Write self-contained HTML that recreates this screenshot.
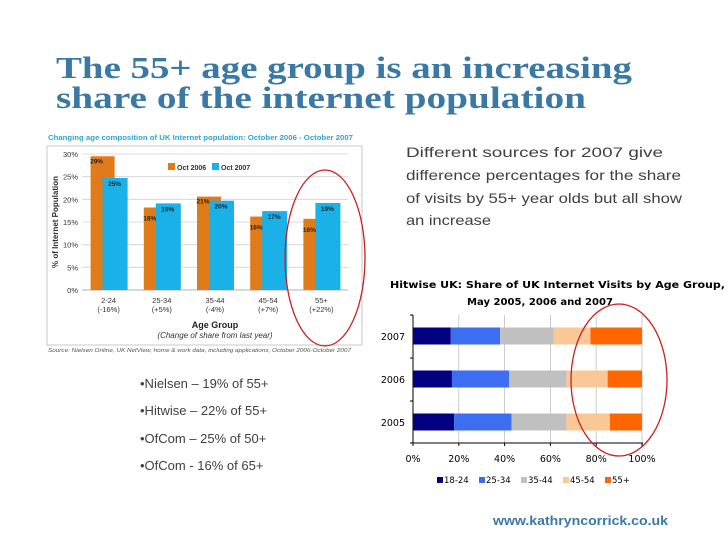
<!DOCTYPE html>
<html><head><meta charset="utf-8"><style>
body{margin:0;background:#fff;}
svg{display:block;font-family:"Liberation Sans",sans-serif;}
</style></head><body>
<svg id="s" width="728" height="546" viewBox="0 0 728 546">
<g fill="#3a78a6" font-family="Liberation Serif,serif" font-weight="bold" font-size="31">
<text x="56" y="78" textLength="576" lengthAdjust="spacingAndGlyphs">The 55+ age group is an increasing</text>
<text x="56" y="108" textLength="530" lengthAdjust="spacingAndGlyphs">share of the internet population</text>
</g>
<g fill="#404040" font-size="13.8">
<text x="406" y="157" textLength="257" lengthAdjust="spacingAndGlyphs">Different sources for 2007 give</text>
<text x="406" y="180" textLength="275" lengthAdjust="spacingAndGlyphs">difference percentages for the share</text>
<text x="406" y="203" textLength="276" lengthAdjust="spacingAndGlyphs">of visits by 55+ year olds but all show</text>
<text x="406" y="225" textLength="85" lengthAdjust="spacingAndGlyphs">an increase</text>
</g>
<g fill="#404040" font-size="13">
<text x="140" y="388">•Nielsen – 19% of 55+</text>
<text x="140" y="415">•Hitwise – 22% of 55+</text>
<text x="140" y="443">•OfCom – 25% of 50+</text>
<text x="140" y="470">•OfCom - 16% of 65+</text>
</g>
<text x="493" y="525" fill="#3a78a6" font-weight="bold" font-size="13" textLength="175" lengthAdjust="spacingAndGlyphs">www.kathryncorrick.co.uk</text>

<g id="nielsen">
<rect x="47" y="146" width="315" height="199" fill="#fff" stroke="#c8c8c8"/>
<text x="48" y="140" fill="#2aa6d6" font-size="7.6" font-weight="bold" textLength="305" lengthAdjust="spacingAndGlyphs">Changing age composition of UK Internet population: October 2006 - October 2007</text>
<text x="48" y="352" fill="#555" font-size="5.6" font-style="italic" textLength="303" lengthAdjust="spacingAndGlyphs">Source: Nielsen Online, UK NetView, home &amp; work data, including applications, October 2006-October 2007</text>
<text transform="translate(58,222) rotate(-90)" text-anchor="middle" font-size="8" font-weight="bold" fill="#333">% of Internet Population</text>
<text x="215" y="328" text-anchor="middle" font-size="9" font-weight="bold" fill="#222">Age Group</text>
<text x="215" y="338" text-anchor="middle" font-size="8" font-style="italic" fill="#333">(Change of share from last year)</text>
<rect x="168" y="163" width="7" height="7" fill="#e07b1a"/><text x="177" y="170" font-size="7" font-weight="bold" fill="#333">Oct 2006</text>
<rect x="212" y="163" width="7" height="7" fill="#1ab0e8"/><text x="221" y="170" font-size="7" font-weight="bold" fill="#333">Oct 2007</text>
</g>

<g id="hitwise">
<text x="390" y="288" font-family="DejaVu Sans,sans-serif" font-size="10" font-weight="bold" fill="#000" textLength="335" lengthAdjust="spacingAndGlyphs">Hitwise UK: Share of UK Internet Visits by Age Group,</text>
<text x="467" y="305" font-family="DejaVu Sans,sans-serif" font-size="10" font-weight="bold" fill="#000" textLength="146" lengthAdjust="spacingAndGlyphs">May 2005, 2006 and 2007</text>
</g>
<g fill="none" stroke="#cc1f1f" stroke-width="1.3">
<ellipse cx="325" cy="258" rx="40" ry="88"/>
<ellipse cx="619" cy="380" rx="48" ry="76"/>
</g>
</svg>
<script>
// Nielsen data
const nCats=["2-24","25-34","35-44","45-54","55+"];
const nChanges=["(-16%)","(+5%)","(-4%)","(+7%)","(+22%)"];
const n2006=[29.5,18.2,20.6,16.2,15.7];
const n2007=[24.7,19.1,19.7,17.4,19.2];
const n2006Labels=["29%","18%","21%","16%","16%"];
const n2007Labels=["25%","19%","20%","17%","19%"];
const nTicks=[0,5,10,15,20,25,30];
// Hitwise data
const hYears=["2007","2006","2005"];
const hSeries=["18-24","25-34","35-44","45-54","55+"];
const h1824=[16.5,17,18];
const h2534=[21.5,25,25];
const h3544=[23.5,25,24];
const h4554=[16,18,19];
const h55=[22.5,15,14];
const hTicks=[0,20,40,60,80,100];

const NS="http://www.w3.org/2000/svg";
function el(p,t,a){const e=document.createElementNS(NS,t);for(const k in a)e.setAttribute(k,a[k]);p.appendChild(e);return e;}
const ng=document.getElementById('nielsen');
const ny=v=>290-v*(136/30);
const px0=82,px1=348,gw=(px1-px0)/nCats.length;
nTicks.forEach(t=>{
 const l=el(ng,'line',{x1:px0,x2:px1,y1:ny(t),y2:ny(t),stroke:t==0?'#999':'#d0d0d0','stroke-width':0.8});
 
 
 const tx=el(ng,'text',{x:78,y:ny(t)+3,'text-anchor':'end','font-size':7.5,fill:'#333'});tx.textContent=t+'%';
 
 
});
nCats.forEach((c,i)=>{
 const gx=px0+gw*i+gw/2;
 const o=el(ng,'rect',{x:gx-18,y:ny(n2006[i]),width:24,height:ny(0)-ny(n2006[i]),fill:'#e07b1a'});
 
 
 const b=el(ng,'rect',{x:gx-6,y:ny(n2007[i]),width:25,height:ny(0)-ny(n2007[i]),fill:'#1ab0e8'});
 
 
 const t1=el(ng,'text',{x:gx-12,y:ny(n2006[i])+ (n2006[i]>n2007[i]?7:13),'text-anchor':'middle','font-size':6.5,'font-weight':'bold',fill:'#222'});t1.textContent=n2006Labels[i];
 
 
 const t2=el(ng,'text',{x:gx+6,y:ny(n2007[i])+8,'text-anchor':'middle','font-size':6.5,'font-weight':'bold',fill:'#222'});t2.textContent=n2007Labels[i];
 
 
 const a=el(ng,'text',{x:gx,y:303,'text-anchor':'middle','font-size':7.5,fill:'#333'});a.textContent=c;
 
 
 const d=el(ng,'text',{x:gx,y:312,'text-anchor':'middle','font-size':7.5,fill:'#333'});d.textContent=nChanges[i];
 
 
});
const hg=document.getElementById('hitwise');
const hx=v=>413+v*2.29;
const hyC=[336,379,422];
const hColors=['#000080','#3d6ef2','#c0c0c0','#fac796','#ff6600'];
const hData=[h1824,h2534,h3544,h4554,h55];
hTicks.forEach(t=>{
 if(t>0){const g=el(hg,'line',{x1:hx(t),x2:hx(t),y1:315,y2:443,stroke:'#c0c0c0','stroke-width':0.8});
 
 }
 const tx=el(hg,'text',{x:hx(t),y:462,'text-anchor':'middle','font-family':'DejaVu Sans,sans-serif','font-size':9.5,fill:'#000'});tx.textContent=t+'%';
 
 
 el(hg,'line',{x1:hx(t),x2:hx(t),y1:443,y2:446,stroke:'#000'});
});
el(hg,'line',{x1:413,x2:413,y1:315,y2:443,stroke:'#000'});
el(hg,'line',{x1:413,x2:643,y1:443,y2:443,stroke:'#000'});
[315,358,401,443].forEach(y=>el(hg,'line',{x1:410,x2:413,y1:y,y2:y,stroke:'#000'}));
hYears.forEach((yr,i)=>{
 let acc=0;
 hData.forEach((s,k)=>{
  const r=el(hg,'rect',{x:hx(acc),y:hyC[i]-8.5,width:hx(acc+s[i])-hx(acc),height:17,fill:hColors[k]});
  
  
  acc+=s[i];
 });
 const t=el(hg,'text',{x:405,y:hyC[i]+4,'text-anchor':'end','font-family':'DejaVu Sans,sans-serif','font-size':9.5,fill:'#000'});t.textContent=yr;
 
 
});
let lx=437;
hSeries.forEach((s,k)=>{
 const r=el(hg,'rect',{x:lx,y:477,width:6,height:6,fill:hColors[k]});
 
 
 const t=el(hg,'text',{x:lx+7,y:483,'font-family':'DejaVu Sans,sans-serif','font-size':8.5,fill:'#000'});t.textContent=s;
 
 
 lx+=k==4?0:42;
});
</script>
</body></html>
